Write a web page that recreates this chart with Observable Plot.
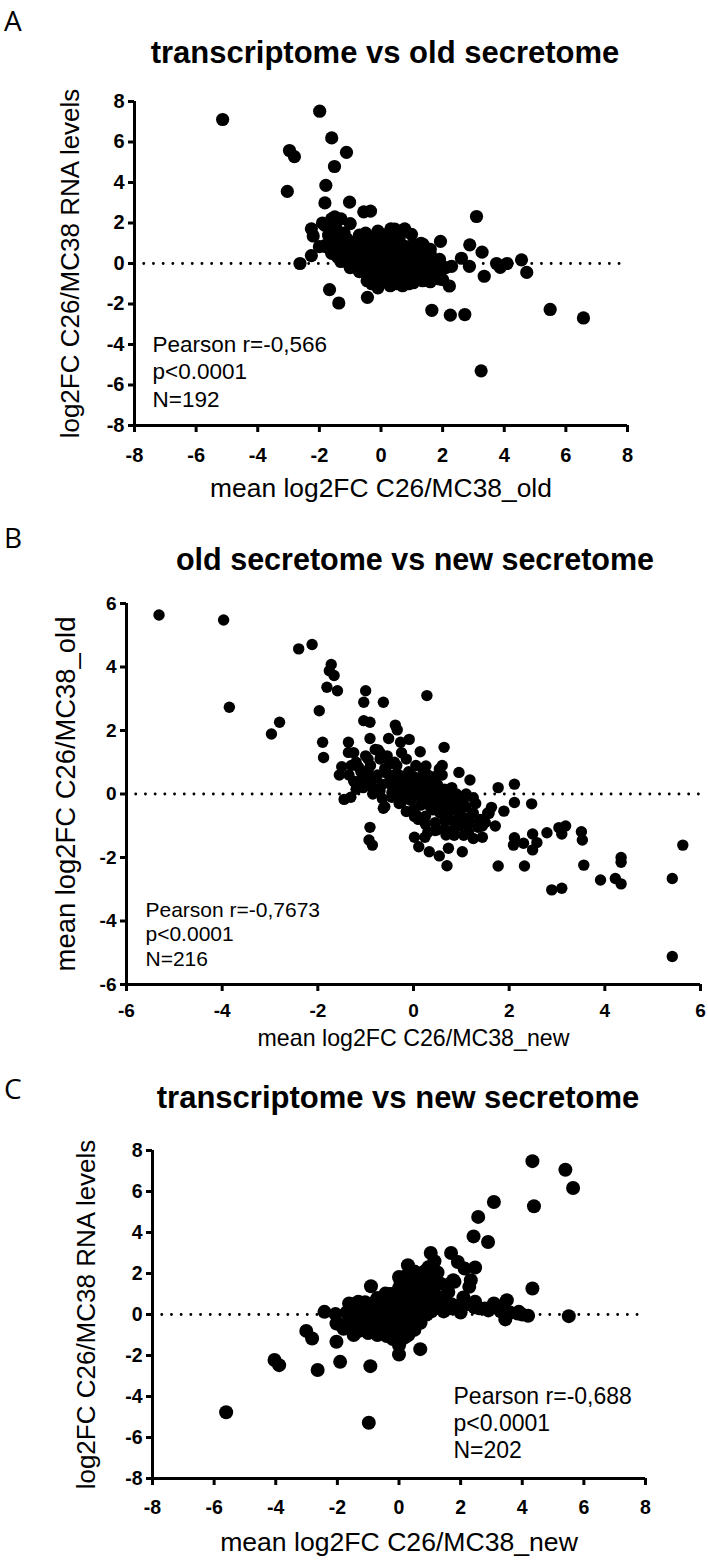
<!DOCTYPE html>
<html>
<head>
<meta charset="utf-8">
<script src="https://cdn.jsdelivr.net/npm/d3@7"></script>
<script src="https://cdn.jsdelivr.net/npm/@observablehq/plot@0.6"></script>
<style>
  html, body { margin: 0; padding: 0; background: #fff; }
  #root { position: relative; width: 708px; height: 1562px; overflow: hidden; background: #fff; }
  .letter { position: absolute; font-family: "Open Sans", sans-serif; font-size: 28px; line-height: 1; color: #000; transform: translateY(-50%); }
  .title { position: absolute; font-family: "Liberation Sans", Arial, sans-serif; font-weight: bold; color: #000; white-space: nowrap; line-height: 1; transform: translate(-50%, -50%); }
  .pn { position: absolute; left: 0; }
  .pn svg { overflow: visible; }
  .pn [aria-label$="tick label"] { font-weight: bold; }
  .pn [aria-label$="-axis label"] { font-weight: normal; }
</style>
</head>
<body>
<div id="root"></div>
<script>
// ---------------- data ----------------
const letters = ["A", "B", "C"];
const titles = ["transcriptome vs old secretome", "old secretome vs new secretome", "transcriptome vs new secretome"];
const xLabels = ["mean log2FC C26/MC38_old", "mean log2FC C26/MC38_new", "mean log2FC C26/MC38_new"];
const yLabels = ["log2FC C26/MC38 RNA levels", "mean log2FC C26/MC38_old", "log2FC C26/MC38 RNA levels"];
const statTexts = [
  "Pearson r=-0,566\np<0.0001\nN=192",
  "Pearson r=-0,7673\np<0.0001\nN=216",
  "Pearson r=-0,688\np<0.0001\nN=202"
];
const ticksA = [-8, -6, -4, -2, 0, 2, 4, 6, 8];
const ticksB = [-6, -4, -2, 0, 2, 4, 6];
const ticksC = [-8, -6, -4, -2, 0, 2, 4, 6, 8];

// panel A: x = mean log2FC old secretome, y = RNA log2FC
const pointsA = [
  [-5.14,7.11],[-1.99,7.52],[-1.6,6.2],[-1.12,5.49],[-2.97,5.58],[-2.81,5.28],[-1.51,4.79],[-3.04,3.56],
  [-1.79,3.86],[-1.82,2.99],[-1.02,3.03],[-0.56,2.55],[-0.34,2.59],[3.10,2.32],[-1.6,2.2],[-1.3,2.2],
  [-2.26,1.71],[-2.2,1.36],[-1.82,1.88],[-1.45,1.71],[-1.0,1.97],[-2.0,0.83],[-1.8,0.83],[-2.63,0.0],
  [-2.26,0.39],[-1.67,-1.29],[-1.37,-1.95],[-0.44,-1.67],[1.65,-2.31],[2.25,-2.55],[2.72,-2.52],[5.49,-2.27],
  [6.57,-2.69],[3.25,-5.3],[2.88,0.92],[3.28,0.56],[3.35,-0.63],[3.75,0.0],[3.87,-0.19],[4.09,0.0],
  [4.56,0.18],[4.73,-0.44],[2.61,0.26],[2.87,-0.14],[2.29,-0.14],[2.22,-1.11],[1.88,-0.76],[1.93,1.09],
  [1.36,0.95],[1.62,-0.05],[0.77,1.71],[0.99,1.44],[0.32,1.71],[1.28,0.48],[0.92,0.3],
  [-1.5,1.1],[-1.3,0.9],[-1.1,1.2],[-0.9,0.8],[-0.7,1.4],[-0.5,1.5],[-0.3,1.2],[-0.1,1.6],[0.1,1.4],[0.3,1.3],
  [0.5,1.1],[0.7,0.9],[-1.6,0.5],[-1.4,0.3],[-1.2,0.6],[-1.0,0.4],[-0.8,0.2],[-0.6,0.7],[-0.4,0.5],[-0.2,0.8],
  [0.0,0.6],[0.2,0.9],[0.4,0.4],[0.6,0.6],[0.8,0.3],[1.0,0.5],[1.2,0.2],[1.4,0.6],[-1.3,0.1],[-0.9,0.0],
  [-0.5,-0.1],[-0.3,0.1],[-0.1,-0.2],[0.1,0.1],[0.3,-0.1],[0.5,0.0],[0.7,-0.2],[0.9,0.1],[1.1,-0.3],[1.3,-0.1],
  [1.5,0.2],[1.7,-0.3],[-0.7,-0.4],[-0.4,-0.6],[-0.2,-0.4],[0.0,-0.7],[0.2,-0.5],[0.4,-0.8],[0.6,-0.6],[0.8,-0.9],
  [1.0,-0.7],[1.2,-0.8],[1.4,-0.6],[1.6,-0.9],[1.8,-0.5],[-0.3,-1.0],[-0.1,-1.2],[0.1,-0.9],[0.3,-1.1],[0.5,-1.0],
  [0.7,-1.1],[0.9,-1.0],[-0.2,0.3],[0.0,0.3],[0.2,0.2],[-0.4,-0.2],[0.15,-0.3],[0.35,0.5],[-0.6,0.0],[0.6,0.3],
  [-1.0,-0.2],[-1.8,0.9],[-1.7,1.4],[-1.9,2.0],[-1.5,2.3],[-1.2,1.5],[-0.5,0.9],[0.05,1.0],[0.45,1.7],[-0.25,-0.8],
  [0.25,0.0],[-0.05,0.1],[0.1,-0.45],[1.1,0.9],[0.8,-0.4],[1.5,-0.3],[1.9,0.2],[1.6,0.7],[2.0,-0.8],[1.3,1.0],
  [-0.85,1.05],[-0.65,0.55],[-0.45,1.25],[-0.25,0.55],[-0.05,0.85],[0.15,0.65],[0.35,0.85],[0.55,0.45],[0.75,0.6],[0.95,0.85],
  [1.15,0.65],[-0.75,-0.15],[-0.55,0.25],[-0.35,-0.35],[-0.15,-0.05],[0.05,-0.25],[0.25,0.35],[0.45,-0.35],[0.65,0.05],[0.85,-0.15],
  [1.05,0.2],[1.25,-0.45],[-0.45,-0.85],[-0.2,-0.65],[0.0,-0.95],[0.2,-0.75],[0.4,-0.55],[0.6,-0.85],[0.85,-0.6],[1.05,-0.95],
  [1.35,-0.85],[-1.15,0.25],[-0.95,0.6],[-1.4,0.75],[-1.55,1.35],[-1.05,0.95],[0.6,1.35],[0.2,1.2],[-0.15,1.3],[1.6,0.45],
  [1.75,0.05],[2.1,-0.2]
];

// panel B: x = mean log2FC new secretome, y = mean log2FC old secretome
const pointsB = [
  [-5.32,5.64],[-3.97,5.48],[-3.85,2.73],[-2.97,1.89],[-2.80,2.26],[-2.40,4.57],[-2.12,4.71],[-1.72,4.08],
  [-1.76,3.88],[-1.66,3.73],[-1.81,3.36],[-1.59,3.25],[-1.97,2.62],[-1.90,1.63],[-1.88,1.15],[-1.0,3.25],
  [-1.04,2.89],[-0.63,2.89],[0.28,3.10],[-1.04,2.31],[-0.91,2.26],[-0.91,1.75],[-1.36,1.63],[-0.52,1.75],
  [-0.38,2.17],[-0.34,2.02],[-0.09,1.72],[-0.27,1.63],[0.64,1.47],[0.14,1.33],[-0.74,1.39],[0.26,0.88],
  [0.54,0.79],[0.95,0.68],[1.18,0.44],[2.11,0.31],[1.77,0.20],[2.11,-0.27],[2.47,-0.31],[1.89,-0.54],
  [1.58,-0.61],[1.63,-0.42],[1.25,-0.12],[1.44,-1.01],[1.71,-1.01],[1.44,-1.36],[2.11,-1.38],[2.09,-1.61],
  [2.30,-1.55],[2.49,-1.26],[2.49,-1.76],[2.58,-1.53],[2.79,-1.22],[3.04,-1.06],[3.18,-1.01],[3.10,-1.26],
  [3.51,-1.19],[3.53,-1.45],[3.56,-2.24],[1.77,-2.27],[2.32,-2.27],[2.89,-3.02],[3.10,-2.97],[3.91,-2.71],
  [4.22,-2.66],[4.34,-2.83],[4.34,-2.0],[4.34,-2.15],[5.41,-2.66],[5.63,-1.61],[5.41,-5.12],[1.02,-1.82],
  [0.73,-1.71],[0.70,-2.26],[0.54,-1.95],[0.33,-1.82],[0.11,-1.66],[0.02,-1.36],[0.24,-1.36],[0.49,-1.13],
  [0.68,-1.29],[-0.91,-1.05],[-0.93,-1.45],[-0.86,-1.61],[-1.45,-0.17],[-1.31,-0.10],[-1.50,0.86],[-1.55,0.60],
  [-1.36,1.31],[-1.21,0.34],[-0.63,-0.45],[0.02,-0.71],[0.45,-0.40],[0.87,-0.40],[1.14,-0.90],
  [-1.2,1.0],[-1.1,0.7],[-1.0,1.2],[-0.9,0.9],[-0.8,0.5],[-0.7,1.1],[-0.6,0.8],[-0.5,0.4],[-0.4,1.0],[-0.3,0.6],
  [-0.2,0.3],[-0.1,0.7],[0.0,0.2],[0.1,0.5],[0.2,0.0],[0.3,0.4],[0.4,-0.1],[0.5,0.3],[0.6,-0.3],[0.7,0.1],
  [0.8,-0.5],[0.9,-0.2],[1.0,-0.7],[1.1,-0.4],[1.2,-0.9],[-1.25,0.4],[-1.05,0.2],[-0.85,0.0],[-0.65,0.3],[-0.45,-0.1],
  [-0.25,0.1],[-0.05,-0.2],[0.15,-0.1],[0.35,-0.4],[0.55,-0.6],[0.75,-0.8],[0.95,-1.0],[1.15,-1.2],[-0.6,-0.4],[-0.3,-0.3],
  [0.0,-0.5],[0.25,-0.7],[0.45,-0.9],[0.65,-1.1],[0.85,-1.3],[0.3,-1.2],[0.1,-0.8],[-1.0,0.5],[-0.8,1.4],[-0.55,1.2],
  [-0.35,0.9],[-0.15,1.1],[0.05,0.9],[-0.2,0.0],[-0.1,0.2],[0.0,0.0],[0.1,0.1],[0.2,0.3],[-0.3,-0.1],[0.15,0.3],
  [0.35,0.1],[0.5,0.0],[0.65,-0.1],[0.8,0.2],[0.9,0.0],[1.0,-0.3],[1.1,0.0],[0.75,-0.4],[0.6,0.6],[-0.7,0.1],
  [-0.9,0.3],[-1.15,0.85],[-1.3,0.9],[-1.35,0.6],[-1.25,1.3],[-0.95,1.1],[0.4,-0.5],[0.55,-0.2],[0.7,-0.65],[0.85,-0.9],
  [1.05,-0.95],[1.25,-0.6],[1.3,-0.3],[-0.45,0.25],[0.25,-0.25],[0.45,0.55],[0.2,0.75],[0.95,-0.45],[1.4,-0.8],[1.55,-0.6],[1.5,-0.9],
  [-1.1,0.45],[-0.95,0.75],[-0.75,0.6],[-0.55,0.65],[-0.35,0.35],[-0.15,0.45],[0.05,0.35],[0.25,0.15],[0.45,0.2],[0.65,0.15],
  [0.85,-0.1],[1.05,-0.15],[-0.65,-0.15],[-0.45,0.05],[-0.25,-0.25],[-0.05,0.0],[0.15,-0.35],[0.35,-0.2],[0.55,-0.45],[0.75,-0.2],
  [0.95,-0.65],[1.15,-0.75],[1.35,-1.05],[-0.15,-0.55],[0.05,-0.65],[0.25,-0.95],[0.45,-1.15],[0.65,-0.85],[0.85,-1.1],[1.05,-1.3],
  [-0.85,0.2],[-1.2,0.15],[-0.5,0.95],[-0.7,1.3],[-0.25,1.3],[0.3,0.6],[0.0,0.55],[-0.4,0.6],[0.6,0.9],[1.25,-1.4]
];

// panel C: x = mean log2FC new secretome, y = RNA log2FC
const pointsC = [
  [4.33,7.48],[5.40,7.06],[5.65,6.17],[4.38,5.28],[3.08,5.49],[2.57,4.76],[2.42,3.81],[2.89,3.54],
  [4.33,1.27],[5.51,-0.08],[1.69,3.0],[1.03,3.0],[1.15,2.6],[1.91,2.56],[2.13,2.24],[2.47,2.29],
  [2.33,1.67],[2.28,1.35],[1.76,1.67],[1.54,1.43],[2.09,0.83],[2.47,0.62],[3.08,0.54],[3.50,0.70],
  [3.45,-0.24],[3.89,0.13],[4.19,-0.06],[2.79,0.29],[1.69,0.37],[0.29,2.40],[0.0,1.83],[0.81,2.08],
  [-0.91,1.38],[-2.42,0.13],[-2.06,0.02],[-2.03,-0.44],[-2.03,-1.33],[-3.01,-0.80],[-2.82,-1.17],[-4.04,-2.22],
  [-3.89,-2.47],[-2.64,-2.71],[-1.91,-2.31],[-0.93,-2.52],[-5.61,-4.77],[-0.98,-5.28],[0.0,-1.95],[0.69,-1.69],
  [0.0,-1.33],[-1.62,0.54],[-1.32,0.62],[-1.62,-0.6],[-1.47,-1.0],[-0.44,1.02],
  [-1.5,0.5],[-1.3,0.2],[-1.1,0.6],[-0.9,0.3],[-0.7,0.8],[-0.5,0.5],[-0.3,1.0],[-0.1,0.7],[0.1,1.2],[0.3,0.9],
  [0.5,1.4],[0.7,1.1],[0.9,1.6],[1.1,1.3],[-1.6,-0.3],[-1.4,-0.1],[-1.2,-0.5],[-1.0,-0.2],[-0.8,-0.6],[-0.6,-0.1],
  [-0.4,-0.4],[-0.2,0.0],[0.0,-0.3],[0.2,0.2],[0.4,-0.1],[0.6,0.4],[0.8,0.1],[1.0,0.6],[1.2,0.3],[-1.3,-0.8],
  [-1.0,-0.9],[-0.7,-1.0],[-0.5,-0.8],[-0.3,-0.9],[-0.1,-0.6],[0.1,-0.8],[0.3,-0.5],[0.5,-0.3],[0.7,-0.4],[0.9,0.0],
  [-0.2,-1.2],[0.0,-1.0],[0.2,-1.1],[-0.8,0.2],[-0.6,0.3],[-0.4,0.1],[-0.2,0.4],[0.0,0.2],[0.2,0.5],[0.4,0.3],
  [0.6,0.8],[0.8,0.6],[1.0,1.0],[1.2,0.9],[0.1,0.5],[-0.1,0.3],[0.3,0.2],[-0.3,-0.2],[0.05,-0.1],[0.25,-0.2],
  [-0.05,0.05],[0.4,1.7],[0.6,1.5],[0.8,2.0],[0.2,1.6],[0.0,1.3],[-0.2,1.0],[0.75,1.8],[1.1,1.9],[0.5,2.1],
  [1.3,0.4],[1.5,0.3],[1.7,0.5],[1.9,0.4],[2.1,0.7],[2.3,0.5],[2.6,0.3],[2.9,0.2],[3.2,0.4],[3.6,0.1],
  [4.0,0.0],[1.4,0.8],[1.6,1.1],[1.8,1.6],[1.35,1.5],[-0.9,-0.4],[-1.1,-0.3],[-1.4,0.3],[-1.7,0.1],[-1.9,-0.5],
  [-1.8,-0.7],[0.0,-1.5],[0.15,-0.6],[-0.45,0.7],[0.9,1.2],
  [-1.2,0.1],[-1.0,0.4],[-0.85,0.55],[-0.65,0.1],[-0.45,0.35],[-0.25,0.6],[-0.05,0.45],[0.15,0.85],[0.35,0.55],[0.55,1.0],
  [0.75,0.8],[0.95,0.4],[1.15,0.7],[-1.35,-0.45],[-1.15,-0.7],[-0.95,-0.55],[-0.75,-0.3],[-0.55,-0.5],[-0.35,-0.65],[-0.15,-0.35],
  [0.05,-0.55],[0.25,-0.8],[0.45,-0.5],[0.65,-0.1],[0.85,0.25],[-0.1,-0.9],[0.1,-1.2],[0.3,-1.0],[-0.4,-1.05],[0.5,-0.75],
  [0.45,1.2],[0.65,1.75],[0.25,1.9],[0.05,1.6],[0.95,2.3],[1.25,2.05],[-0.6,0.6],[-0.35,0.85],[1.05,0.15],[1.25,0.55],
  [1.45,0.15],[1.65,0.3],[2.0,0.1],[2.45,0.35],[3.3,0.15],[3.85,0.05]
];

// ---------------- drawing ----------------
const root = document.getElementById("root");

function addDiv(cls, text, style) {
  const d = document.createElement("div");
  d.className = cls;
  d.textContent = text;
  Object.assign(d.style, style);
  root.appendChild(d);
  return d;
}

const minus = d => String(d).replace("\u2212", "-");

function panel(cfg) {
  const data = cfg.points.map(([x, y]) => ({x, y}));
  const lo = cfg.ticks[0], hi = cfg.ticks[cfg.ticks.length - 1];
  const ylo = cfg.yticks[0], yhi = cfg.yticks[cfg.yticks.length - 1];
  const chart = Plot.plot({
    width: 708,
    height: cfg.svgBottom - cfg.svgTop,
    marginLeft: cfg.left,
    marginRight: 708 - cfg.right,
    marginTop: cfg.plotTop - cfg.svgTop,
    marginBottom: cfg.svgBottom - cfg.plotBottom,
    x: {domain: [lo, hi]},
    y: {domain: [ylo, yhi]},
    style: {fontFamily: "'Liberation Sans', Arial, sans-serif", fontSize: cfg.tickSize + "px", color: "#000", background: "transparent"},
    marks: [
      Plot.ruleY([0], {stroke: "#000", strokeWidth: 2.8, strokeDasharray: "0.1 9.6", strokeLinecap: "round"}),
      Plot.dot(data, {x: "x", y: "y", r: cfg.r, fill: "#000", stroke: "none"}),
      Plot.ruleX([lo], {stroke: "#000", strokeWidth: 3}),
      Plot.ruleY([ylo], {stroke: "#000", strokeWidth: 3}),
      Plot.axisX(cfg.ticks, {tickSize: 7, strokeWidth: 3, tickPadding: cfg.xPad, tickFormat: minus,
        label: cfg.xLabel, labelAnchor: "center", labelArrow: "none", labelOffset: cfg.xLabelOffset}),
      Plot.axisY(cfg.yticks, {tickSize: 6, strokeWidth: 3, tickPadding: 4, tickFormat: minus,
        label: cfg.yLabel, labelAnchor: "center", labelArrow: "none", labelOffset: cfg.yLabelOffset}),
      Plot.text([cfg.stats], {text: d => d, frameAnchor: "bottom-left", dx: cfg.statsDx, dy: cfg.statsDy,
        textAnchor: "start", lineAnchor: "middle", lineHeight: cfg.statsLH, fontSize: cfg.statsSize, fill: "#000"})
    ]
  });
  chart.querySelectorAll('[aria-label="x-axis label"]').forEach(g => g.style.fontSize = cfg.xLabelSize + "px");
  chart.querySelectorAll('[aria-label="y-axis label"]').forEach(g => g.style.fontSize = cfg.yLabelSize + "px");
  const wrap = document.createElement("div");
  wrap.className = "pn";
  wrap.style.top = cfg.svgTop + "px";
  wrap.appendChild(chart);
  root.appendChild(wrap);

  addDiv("letter", cfg.letter, {left: "4px", top: cfg.letterY + "px"});
  addDiv("title", cfg.title, {left: cfg.titleX + "px", top: cfg.titleY + "px", fontSize: cfg.titleSize + "px"});
}

panel({
  letter: letters[0], title: titles[0], xLabel: xLabels[0], yLabel: yLabels[0], stats: statTexts[0],
  points: pointsA, ticks: ticksA, yticks: ticksA,
  svgTop: 85, svgBottom: 510, plotTop: 101, plotBottom: 425, left: 134, right: 627, r: 6.6,
  tickSize: 20, xPad: 15,
  xLabelOffset: 71, yLabelOffset: 74, xLabelSize: 26.4, yLabelSize: 26,
  statsDx: 18, statsDy: -55, statsLH: 1.22, statsSize: 22.5,
  letterY: 20, titleX: 385, titleY: 52, titleSize: 31
});
panel({
  letter: letters[1], title: titles[1], xLabel: xLabels[1], yLabel: yLabels[1], stats: statTexts[1],
  points: pointsB, ticks: ticksB, yticks: ticksB,
  svgTop: 585, svgBottom: 1060, plotTop: 603, plotBottom: 984, left: 126, right: 700, r: 5.7,
  tickSize: 19, xPad: 12,
  xLabelOffset: 61, yLabelOffset: 71, xLabelSize: 23.2, yLabelSize: 27.4,
  statsDx: 19, statsDy: -51, statsLH: 1.17, statsSize: 21,
  letterY: 537, titleX: 415, titleY: 559, titleSize: 30.5
});
panel({
  letter: letters[2], title: titles[2], xLabel: xLabels[2], yLabel: yLabels[2], stats: statTexts[2],
  points: pointsC, ticks: ticksC, yticks: ticksC,
  svgTop: 1130, svgBottom: 1562, plotTop: 1150, plotBottom: 1478, left: 152, right: 645, r: 7,
  tickSize: 19.5, xPad: 15,
  xLabelOffset: 72, yLabelOffset: 76, xLabelSize: 26.6, yLabelSize: 26,
  statsDx: 301, statsDy: -56, statsLH: 1.17, statsSize: 23,
  letterY: 1088, titleX: 398, titleY: 1097, titleSize: 31
});
</script>
</body>
</html>
